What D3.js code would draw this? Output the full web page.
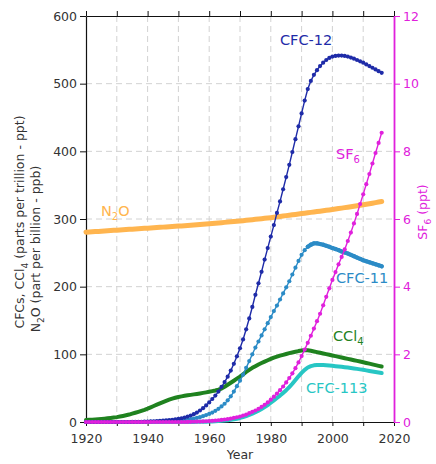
<!DOCTYPE html>
<html>
<head>
<meta charset="utf-8">
<script src="https://cdn.jsdelivr.net/npm/d3@7"></script>
<style>
  html, body { margin: 0; padding: 0; background: #fff; }
  svg { display: block; font-family: "DejaVu Sans", Verdana, sans-serif; }
</style>
</head>
<body>
<svg id="chart" width="436" height="464"></svg>
<script>
// ---------- DATA (yearly, 1920 - 2016) ----------
const startYear = 1920;
const endYear = 2016;

const cfc12 = [
  0,0,0,0,0,0,0,0,0,0, 0,0,0,0,0,
  0.1,0.2,0.3,0.4,0.5,
  0.7,0.9,1.1,1.4,1.7,2.0,2.4,2.8,3.3,3.9,
  4.6,5.5,6.6,8.0,9.6,11.5,14,17,20.5,24.5,
  29,34,39,45,52,59,67,76,86,97,
  109,122,137,153,170,188,205,222,240,257,
  274,291,309,326,344,362,380,399,418,437,
  456,475,492,504,513,520,526,531,535,538,
  540,541,541.5,541.5,541,540,538.5,537,535,533,
  531,528.5,526,523.5,521,518.5,516
];

const cfc11 = [
  0,0,0,0,0,0,0,0,0,0, 0,0,0,0,0,0,0,0,0,0,
  0.1,0.2,0.3,0.4,0.5,0.7,0.9,1.1,1.4,1.7,
  2.0,2.4,2.9,3.5,4.2,5.0,6.0,7.2,8.6,10.2,
  12,14,16.5,19.5,23,27,32,38,45,53,
  61,70,80,90,100,110,119,128,137,146,
  155,164,172,181,190,199,208,218,228,238,
  247,254,259,262,264,264,263,262,260.5,259,
  257,255.5,254,252,250.5,249,247,245,243,241,
  239,237.5,236,234.5,233,231.5,230
];

const sf6 = [ // ppt, right axis
  0,0,0,0,0,0,0,0,0,0, 0,0,0,0,0,0,0,0,0,0,
  0,0,0,0,0,0,0,0,0,0, 0,0,0,
  0.003,0.005,0.007,0.01,0.013,0.017,0.022,
  0.028,0.035,0.043,0.052,0.062,0.074,0.087,0.10,0.12,0.14,
  0.16,0.19,0.22,0.26,0.30,0.34,0.39,0.45,0.51,0.58,
  0.66,0.75,0.84,0.94,1.05,1.17,1.30,1.44,1.59,1.76,
  1.95,2.14,2.34,2.55,2.76,2.98,3.2,3.45,3.7,3.95,
  4.2,4.43,4.66,4.88,5.1,5.35,5.6,5.87,6.15,6.44,
  6.73,7.03,7.33,7.64,7.95,8.25,8.55
];

const ccl4 = [
  3,3.2,3.5,3.8,4.1,4.5,5.0,5.5,6.0,6.6,
  7.2,8.0,8.9,9.9,11,12.3,13.6,15.0,16.5,18.0,
  19.7,21.6,23.6,25.6,27.6,29.5,31.3,33,34.5,35.8,
  37,37.9,38.7,39.4,40.1,40.8,41.5,42.2,43,43.8,
  44.7,45.6,46.6,47.8,49.5,52,55,58,61,64,
  67,70.5,74,77,80,82.5,85,87.2,89.3,91.3,
  93.2,95,96.5,98,99.3,100.5,101.7,102.8,103.8,104.8,
  105.6,106.2,106,105.2,104.3,103.3,102.3,101.3,100.3,99.3,
  98.3,97.3,96.3,95.3,94.3,93.3,92.3,91.3,90.3,89.3,
  88.3,87.3,86.3,85.2,84.1,83,82
];

const cfc113 = [
  0,0,0,0,0,0,0,0,0,0, 0,0,0,0,0,0,0,0,0,0,
  0,0,0,0,0,0,0,0,0,0, 0,0,0,0,0,
  0.1,0.2,0.3,0.4,0.5,
  0.7,0.9,1.1,1.4,1.8,2.2,2.7,3.3,4.0,4.9,
  6.0,7.3,8.8,10.5,12.4,14.5,16.8,19.3,22,25,
  28.5,32,35.5,39,43,47,51.5,56.5,62,67.5,
  72.5,77,80.5,82.5,83.7,84.2,84.3,84.2,83.9,83.5,
  83,82.5,82,81.5,81,80.4,79.8,79.2,78.5,77.8,
  77.1,76.3,75.5,74.7,73.9,73.1,72.3
];

const n2o = [ // ppb
  280.5,280.8,281.1,281.4,281.7,282.0,282.3,282.6,282.9,283.2,
  283.5,283.8,284.1,284.4,284.7,285.0,285.3,285.6,285.9,286.2,
  286.5,286.8,287.1,287.4,287.7,288.0,288.3,288.6,288.9,289.2,
  289.5,289.8,290.1,290.4,290.7,291.0,291.4,291.8,292.2,292.6,
  293.0,293.4,293.8,294.2,294.6,295.0,295.4,295.8,296.2,296.6,
  297.0,297.5,298.0,298.5,299.0,299.5,300.0,300.5,301.0,301.5,
  302.0,302.6,303.2,303.8,304.4,305.0,305.6,306.2,306.8,307.4,
  308.0,308.6,309.2,309.8,310.4,311.0,311.6,312.2,312.8,313.4,
  314.0,314.7,315.4,316.1,316.8,317.5,318.2,318.9,319.6,320.3,
  321.0,321.8,322.6,323.4,324.2,325.0,325.8
];

const xTicks = [1920, 1940, 1960, 1980, 2000, 2020];
const xGrid = [1930, 1940, 1950, 1960, 1970, 1980, 1990, 2000, 2010];
const yTicks = [0, 100, 200, 300, 400, 500, 600];
const y2Ticks = [0, 2, 4, 6, 8, 10, 12];

// ---------- LAYOUT ----------
const svg = d3.select("#chart");
const L = 86, R = 394, T = 16, B = 422;

const x = d3.scaleLinear().domain([1920, 2020]).range([L, R]);
const y = d3.scaleLinear().domain([0, 600]).range([B, T]);
const y2 = d3.scaleLinear().domain([0, 12]).range([B, T]);

const years = d3.range(startYear, endYear + 1);
const toPts = arr => arr.map((v, i) => ({ year: years[i], v }));

const col = {
  cfc12: "#1e2ba8",
  cfc11: "#2b8bc6",
  sf6: "#e020dc",
  n2o: "#ffb54f",
  ccl4: "#1f821f",
  cfc113: "#27c6c4",
  text: "#333333"
};

// grid
const grid = svg.append("g");
grid.selectAll("line.v").data(xGrid).join("line")
  .attr("x1", d => x(d)).attr("x2", d => x(d))
  .attr("y1", T).attr("y2", B)
  .attr("stroke", "#d2d2d2").attr("stroke-width", 1).attr("stroke-dasharray", "6,4");
grid.selectAll("line.h").data(yTicks.filter(d => d > 0 && d < 600)).join("line")
  .attr("x1", L).attr("x2", R)
  .attr("y1", d => y(d)).attr("y2", d => y(d))
  .attr("stroke", "#d2d2d2").attr("stroke-width", 1).attr("stroke-dasharray", "6,4");

// axes
const fs = "12.5px";
const axLeft = svg.append("g").attr("transform", `translate(${L},0)`)
  .call(d3.axisLeft(y).tickValues(yTicks).tickSize(6).tickPadding(3).tickSizeOuter(0));
const axBottom = svg.append("g").attr("transform", `translate(0,${B})`)
  .call(d3.axisBottom(x).tickValues(d3.range(1920, 2021, 10)).tickSize(4).tickPadding(8).tickSizeOuter(0)
        .tickFormat(d => xTicks.includes(d) ? d : ""));
const axTop = svg.append("g").attr("transform", `translate(0,${T})`)
  .call(d3.axisTop(x).tickValues(d3.range(1920, 2021, 10)).tickSize(5).tickFormat("").tickSizeOuter(0));
const axRight = svg.append("g").attr("transform", `translate(${R},0)`)
  .call(d3.axisRight(y2).tickValues(y2Ticks).tickSize(6).tickPadding(3).tickSizeOuter(0));

[axLeft, axBottom, axTop].forEach(a => {
  a.selectAll("path").attr("stroke", "#111").attr("stroke-width", 1.2);
  a.selectAll("line").attr("stroke", "#111");
  a.selectAll("text").attr("fill", col.text).style("font-size", fs).style("font-family", "DejaVu Sans");
});
axRight.selectAll("path").attr("stroke", col.sf6).attr("stroke-width", 1.8);
axRight.selectAll("line").attr("stroke", col.sf6);
axRight.selectAll("text").attr("fill", col.sf6).style("font-size", fs).style("font-family", "DejaVu Sans");

// series
const lineL = d3.line().x(d => x(d.year)).y(d => y(d.v));
const lineR = d3.line().x(d => x(d.year)).y(d => y2(d.v));

function thick(arr, color, w, gen) {
  svg.append("path").datum(toPts(arr))
    .attr("d", gen).attr("fill", "none")
    .attr("stroke", color).attr("stroke-width", w)
    .attr("stroke-linejoin", "round").attr("stroke-linecap", "round");
}
function marked(arr, color, yScale, gen) {
  const g = svg.append("g");
  g.append("path").datum(toPts(arr))
    .attr("d", gen).attr("fill", "none")
    .attr("stroke", color).attr("stroke-width", 1.4);
  g.selectAll("circle").data(toPts(arr)).join("circle")
    .attr("cx", d => x(d.year)).attr("cy", d => yScale(d.v))
    .attr("r", 2.1).attr("fill", color);
  return g;
}

thick(n2o, col.n2o, 5, lineL);
thick(ccl4, col.ccl4, 4, lineL);
thick(cfc113, col.cfc113, 4, lineL);
marked(cfc11, col.cfc11, y, lineL);
// denser (thicker) post-peak CFC-11 record
thick(cfc11.slice(1992 - startYear), col.cfc11, 4.2,
  d3.line().x((d, i) => x(1992 + i)).y(d => y(d.v)));
marked(cfc12, col.cfc12, y, lineL);
marked(sf6, col.sf6, y2, lineR);

// series labels
function label(xp, yp, color, main, sub, tail) {
  const t = svg.append("text").attr("x", xp).attr("y", yp)
    .attr("fill", color).style("font-size", "14.5px");
  t.append("tspan").text(main);
  if (sub) {
    t.append("tspan").attr("dy", 4).style("font-size", "10px").text(sub);
    if (tail) t.append("tspan").attr("dy", -4).text(tail);
  }
}
label(280, 45, col.cfc12, "CFC-12");
label(336, 159, col.sf6, "SF", "6");
label(101, 216, col.n2o, "N", "2", "O");
label(336, 283, col.cfc11, "CFC-11");
label(333, 341, col.ccl4, "CCl", "4");
label(306, 393, col.cfc113, "CFC-113");

// axis titles
const tl1 = svg.append("text").attr("transform", "translate(24,222) rotate(-90)")
  .attr("text-anchor", "middle").attr("fill", col.text).style("font-size", "12.5px");
tl1.append("tspan").text("CFCs, CCl");
tl1.append("tspan").attr("dy", 3.5).style("font-size", "9px").text("4");
tl1.append("tspan").attr("dy", -3.5).text(" (parts per trillion - ppt)");

const tl2 = svg.append("text").attr("transform", "translate(40,249) rotate(-90)")
  .attr("text-anchor", "middle").attr("fill", col.text).style("font-size", "12.5px");
tl2.append("tspan").text("N");
tl2.append("tspan").attr("dy", 3.5).style("font-size", "9px").text("2");
tl2.append("tspan").attr("dy", -3.5).text("O (part per billion - ppb)");

const tr = svg.append("text").attr("transform", "translate(427,212) rotate(-90)")
  .attr("text-anchor", "middle").attr("fill", col.sf6).style("font-size", "12.5px");
tr.append("tspan").text("SF");
tr.append("tspan").attr("dy", 3.5).style("font-size", "9px").text("6");
tr.append("tspan").attr("dy", -3.5).text(" (ppt)");

svg.append("text").attr("x", 240).attr("y", 459).attr("text-anchor", "middle")
  .attr("fill", col.text).style("font-size", "12.5px").text("Year");
</script>
</body>
</html>
